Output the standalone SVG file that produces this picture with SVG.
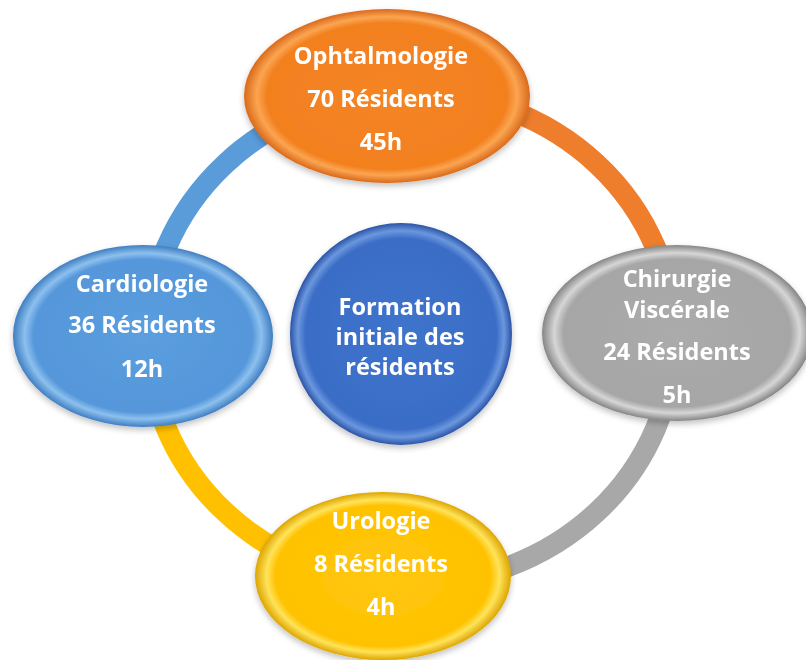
<svg xmlns="http://www.w3.org/2000/svg" width="806" height="660" viewBox="0 0 806 660">
<defs>
<radialGradient id="gOr" cx="0.5" cy="0.5" r="0.5">
<stop offset="0" stop-color="#F58425"/><stop offset="0.84" stop-color="#F2801F"/><stop offset="0.91" stop-color="#FBA551"/><stop offset="1" stop-color="#D9691A"/>
</radialGradient>
<radialGradient id="gBl" cx="0.5" cy="0.5" r="0.5">
<stop offset="0" stop-color="#5B9EDE"/><stop offset="0.84" stop-color="#5597DA"/><stop offset="0.91" stop-color="#8CC0EE"/><stop offset="1" stop-color="#3F7EC2"/>
</radialGradient>
<radialGradient id="gGr" cx="0.5" cy="0.5" r="0.5">
<stop offset="0" stop-color="#ABABAB"/><stop offset="0.84" stop-color="#A6A6A6"/><stop offset="0.91" stop-color="#D6D6D6"/><stop offset="1" stop-color="#858585"/>
</radialGradient>
<radialGradient id="gYe" cx="0.5" cy="0.5" r="0.5">
<stop offset="0" stop-color="#FFC70F"/><stop offset="0.84" stop-color="#FFC200"/><stop offset="0.91" stop-color="#FFE35A"/><stop offset="1" stop-color="#DDA500"/>
</radialGradient>
<radialGradient id="gCe" cx="0.5" cy="0.5" r="0.5">
<stop offset="0" stop-color="#3F74CC"/><stop offset="0.86" stop-color="#3A6DC6"/><stop offset="0.93" stop-color="#6B97DE"/><stop offset="1" stop-color="#2A53A6"/>
</radialGradient>
<filter id="sh" x="-10%" y="-10%" width="120%" height="130%">
<feGaussianBlur in="SourceAlpha" stdDeviation="3"/>
<feOffset dy="3" result="b"/>
<feComponentTransfer><feFuncA type="linear" slope="0.25"/></feComponentTransfer>
<feMerge><feMergeNode/><feMergeNode in="SourceGraphic"/></feMerge>
</filter>
</defs>
<style>
.lbl{font-family:"Open Sans","Noto Sans","Liberation Sans",sans-serif;font-weight:700;font-size:23.5px;fill:#FFFFFF;text-anchor:middle}
.arc{fill:none;stroke-width:21}
.node{filter:url(#sh)}
</style>
<g id="connectors">
<path class="arc" d="M 411 92 A 263 246 0 0 1 674 338" stroke="#EE7D2C"/>
<path class="arc" d="M 674 338 A 263 246 0 0 1 411 584" stroke="#A8A8A8"/>
<path class="arc" d="M 411 584 A 263 246 0 0 1 148 338" stroke="#FFC000"/>
<path class="arc" d="M 148 338 A 263 246 0 0 1 411 92" stroke="#5A9BDA"/>
</g>
<g id="center" class="node">
<circle cx="401" cy="334" r="111" fill="url(#gCe)"/>
<text class="lbl" x="400" y="315">Formation</text>
<text class="lbl" x="400" y="345">initiale des</text>
<text class="lbl" x="400" y="375">résidents</text>
</g>
<g id="ophtalmologie" class="node">
<ellipse cx="387" cy="96" rx="143" ry="87" fill="url(#gOr)"/>
<text class="lbl" x="381" y="64">Ophtalmologie</text>
<text class="lbl" x="381" y="107">70 Résidents</text>
<text class="lbl" x="381" y="150">45h</text>
</g>
<g id="cardiologie" class="node">
<ellipse cx="143" cy="336" rx="130" ry="91" fill="url(#gBl)"/>
<text class="lbl" x="142" y="292">Cardiologie</text>
<text class="lbl" x="142" y="333">36 Résidents</text>
<text class="lbl" x="142" y="377">12h</text>
</g>
<g id="chirurgie" class="node">
<ellipse cx="677" cy="333" rx="135" ry="88" fill="url(#gGr)"/>
<text class="lbl" x="677" y="287">Chirurgie</text>
<text class="lbl" x="677" y="318">Viscérale</text>
<text class="lbl" x="677" y="360">24 Résidents</text>
<text class="lbl" x="677" y="403">5h</text>
</g>
<g id="urologie" class="node">
<ellipse cx="383" cy="576" rx="128" ry="84" fill="url(#gYe)"/>
<text class="lbl" x="381" y="529">Urologie</text>
<text class="lbl" x="381" y="572">8 Résidents</text>
<text class="lbl" x="381" y="615">4h</text>
</g>
</svg>
